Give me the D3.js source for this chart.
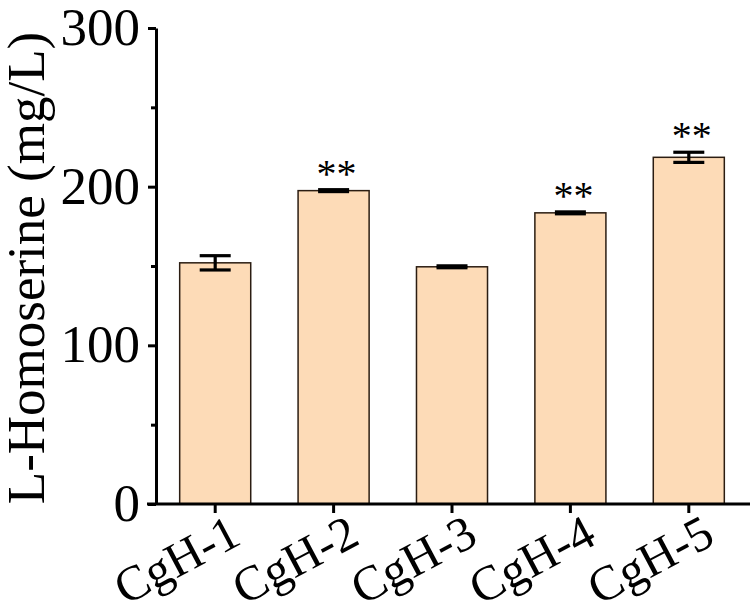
<!DOCTYPE html>
<html>
<head>
<meta charset="utf-8">
<script src="https://cdn.jsdelivr.net/npm/d3@7"></script>
<style>
  html, body { margin: 0; padding: 0; background: #fff; }
  svg { display: block; }
  text { font-family: "Liberation Serif", "Times New Roman", serif; fill: #000; }
</style>
</head>
<body>
<div id="chart"></div>
<script>

var strains = ['CgH-1', 'CgH-2', 'CgH-3', 'CgH-4', 'CgH-5'];
var titers = [152, 197.5, 149.5, 183.5, 218.5];
var errors = [4.5, 0.6, 0.6, 0.6, 3.2];
var marks = ['', '**', '', '**', '**'];
var majorTicks = [0, 100, 200, 300];
var minorTicks = [50, 150, 250];

(function() {

  var W = 750, H = 612;

  // Plot box (no top/right frame in the original).
  var plotLeft = 156, plotRight = 748, plotTop = 28, plotBottom = 504;

  var svg = d3.select('#chart').append('svg')
    .attr('width', W).attr('height', H);

  var x = d3.scaleBand()
    .domain(strains)
    .range([plotLeft, plotRight])
    .paddingInner(0.4)
    .paddingOuter(0.2);

  var y = d3.scaleLinear()
    .domain([0, 300])
    .range([plotBottom, plotTop]);

  // Bars.
  svg.selectAll('rect.bar')
    .data(strains)
    .enter().append('rect')
    .attr('class', 'bar')
    .attr('x', function(d) { return x(d); })
    .attr('width', x.bandwidth())
    .attr('y', function(d, i) { return y(titers[i]); })
    .attr('height', function(d, i) { return y(0) - y(titers[i]); })
    .attr('fill', '#fddbb7')
    .attr('stroke', '#2b1d12')
    .attr('stroke-width', 1.5);

  // Error bars.
  var capHalf = 15.5;
  var err = svg.append('g')
    .attr('stroke', '#000')
    .attr('stroke-width', 3.2)
    .attr('fill', 'none');

  strains.forEach(function(d, i) {
    var cx = x(d) + x.bandwidth() / 2;
    var hi = y(titers[i] + errors[i]);
    var lo = y(titers[i] - errors[i]);
    err.append('line').attr('x1', cx).attr('x2', cx).attr('y1', hi).attr('y2', lo);
    err.append('line').attr('x1', cx - capHalf).attr('x2', cx + capHalf)
      .attr('y1', hi).attr('y2', hi);
    err.append('line').attr('x1', cx - capHalf).attr('x2', cx + capHalf)
      .attr('y1', lo).attr('y2', lo);
  });

  // Significance marks.
  svg.selectAll('text.mark')
    .data(strains)
    .enter().append('text')
    .attr('class', 'mark')
    .attr('x', function(d) { return x(d) + x.bandwidth() / 2 + 3; })
    .attr('y', function(d, i) { return y(titers[i] + errors[i]) - 3; })
    .attr('text-anchor', 'middle')
    .attr('font-size', 40)
    .text(function(d, i) { return marks[i]; });

  // Y axis with major and minor ticks.
  var yAxis = svg.append('g')
    .attr('transform', 'translate(' + plotLeft + ',0)')
    .call(d3.axisLeft(y).tickValues(majorTicks).tickSize(8).tickPadding(8)
      .tickSizeOuter(0));
  yAxis.select('.domain').attr('stroke-width', 3);
  yAxis.selectAll('.tick line').attr('stroke-width', 3);
  yAxis.selectAll('.tick text')
    .attr('font-size', 53)
    .attr('font-family', '"Liberation Serif", "Times New Roman", serif')
    .attr('dy', '0.31em');

  var yMinor = svg.append('g')
    .attr('transform', 'translate(' + plotLeft + ',0)')
    .call(d3.axisLeft(y).tickValues(minorTicks).tickSize(5).tickFormat(''));
  yMinor.select('.domain').remove();
  yMinor.selectAll('.tick line').attr('stroke-width', 3);

  // X axis.
  var xAxis = svg.append('g')
    .attr('transform', 'translate(0,' + plotBottom + ')')
    .call(d3.axisBottom(x).tickSize(9).tickSizeOuter(0).tickFormat(''));
  xAxis.select('.domain').remove();
  xAxis.selectAll('.tick line').attr('stroke-width', 3);
  svg.append('line')
    .attr('x1', plotLeft - 9).attr('x2', W)
    .attr('y1', plotBottom).attr('y2', plotBottom)
    .attr('stroke', '#000').attr('stroke-width', 3);

  // Rotated category labels.
  svg.selectAll('text.cat')
    .data(strains)
    .enter().append('text')
    .attr('class', 'cat')
    .attr('text-anchor', 'end')
    .attr('font-size', 49)
    .attr('transform', function(d) {
      var cx = x(d) + x.bandwidth() / 2;
      return 'translate(' + (cx + 28) + ',543) rotate(-28)';
    })
    .text(function(d) { return d; });

  // Axis title.
  svg.append('text')
    .attr('transform', 'translate(44,' + ((plotTop + plotBottom) / 2 + 2) +
      ') rotate(-90)')
    .attr('text-anchor', 'middle')
    .attr('font-size', 53)
    .text('L-Homoserine (mg/L)');

})();

</script>
</body>
</html>
